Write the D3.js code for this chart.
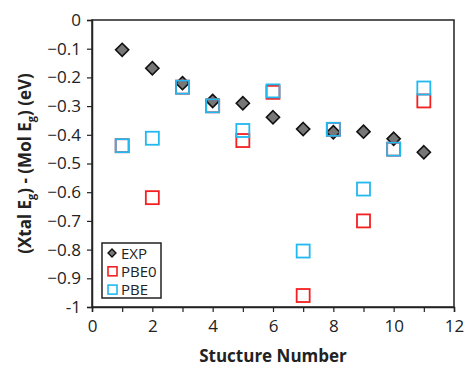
<!DOCTYPE html>
<html><head><meta charset="utf-8">
<script src="https://cdn.jsdelivr.net/npm/d3@7"></script>
<style>body{margin:0;background:#fff}svg{display:block}text{font-family:"Open Sans",sans-serif;fill:#222}</style>
</head><body>
<svg id="c" width="464" height="370"></svg>
<script>
const structures = [1,2,3,4,5,6,7,8,9,10,11];
const exp  = [-0.104,-0.168,-0.220,-0.282,-0.290,-0.339,-0.380,-0.391,-0.389,-0.414,-0.461];
const pbe0 = [-0.438,-0.619,-0.234,-0.299,-0.420,-0.252,-0.960,-0.381,-0.700,-0.450,-0.282];
const pbe  = [-0.438,-0.412,-0.234,-0.299,-0.385,-0.247,-0.805,-0.381,-0.589,-0.450,-0.237];
const xTicks = [0,2,4,6,8,10,12];
const yTicks = [0,-0.1,-0.2,-0.3,-0.4,-0.5,-0.6,-0.7,-0.8,-0.9,-1];

const svg = d3.select("#c");
const L=92,R=454,T=20,B=307;
const x = d3.scaleLinear().domain([0,12]).range([L,R]);
const y = d3.scaleLinear().domain([-1,0]).range([B,T]);

// frame
svg.append("rect").attr("x",L).attr("y",T).attr("width",R-L).attr("height",B-T)
  .attr("fill","none").attr("stroke","#222").attr("stroke-width",1.5);

const fmt = d => d===0 ? "0" : (d===-1 ? "-1" : d3.format(".1f")(d));
const ya = svg.append("g").attr("transform",`translate(${L},0)`)
  .call(d3.axisLeft(y).tickValues(yTicks).tickFormat(fmt).tickSize(5).tickPadding(6));
const xa = svg.append("g").attr("transform",`translate(0,${B})`)
  .call(d3.axisBottom(x).tickValues(d3.range(0,13)).tickFormat(d=> xTicks.includes(d)? d : "").tickSize(5).tickPadding(8));
[ya,xa].forEach(g=>{
  g.select(".domain").attr("stroke","#222").attr("stroke-width",1.5);
  g.selectAll(".tick line").attr("stroke","#222").attr("stroke-width",1.2);
  g.selectAll("text").style("font-size","17px").style("font-family","'Open Sans',sans-serif").attr("fill","#222");
});

const diamond = d3.symbol().type(d3.symbolDiamond2).size(110);
const sq = 13;
svg.append("g").selectAll("path").data(structures).join("path")
  .attr("d",diamond).attr("transform",(d,i)=>`translate(${x(d)},${y(exp[i])})`)
  .attr("fill","#777").attr("stroke","#111").attr("stroke-width",1.6);
svg.append("g").selectAll("rect").data(structures).join("rect")
  .attr("x",d=>x(d)-sq/2).attr("y",(d,i)=>y(pbe0[i])-sq/2).attr("width",sq).attr("height",sq)
  .attr("fill","none").attr("stroke","#f42020").attr("stroke-width",1.8);
svg.append("g").selectAll("rect").data(structures).join("rect")
  .attr("x",d=>x(d)-sq/2).attr("y",(d,i)=>y(pbe[i])-sq/2).attr("width",sq).attr("height",sq)
  .attr("fill","none").attr("stroke","#22b8f0").attr("stroke-width",1.8);

// axis titles
svg.append("text").attr("x",(L+R)/2).attr("y",362).attr("text-anchor","middle")
  .style("font-size","17px").style("font-weight","bold").text("Stucture Number");
const yt = svg.append("text").attr("transform",`translate(31,${(T+B)/2}) rotate(-90)`)
  .attr("text-anchor","middle").style("font-size","17px").style("font-weight","bold");
yt.append("tspan").text("(Xtal E");
yt.append("tspan").attr("dy",4).style("font-size","11px").text("g");
yt.append("tspan").attr("dy",-4).text(") - (Mol E");
yt.append("tspan").attr("dy",4).style("font-size","11px").text("g");
yt.append("tspan").attr("dy",-4).text(") (eV)");

// legend
const lg = svg.append("g");
lg.append("rect").attr("x",102).attr("y",243).attr("width",59).attr("height",55)
  .attr("fill","#fff").attr("stroke","#222").attr("stroke-width",1.5);
const items = [{n:"EXP",t:"d"},{n:"PBE0",t:"r",c:"#f42020"},{n:"PBE",t:"r",c:"#22b8f0"}];
items.forEach((it,i)=>{
  const cy = 253 + i*18.3;
  if(it.t==="d"){
    lg.append("path").attr("d",d3.symbol().type(d3.symbolDiamond2).size(40)())
      .attr("transform",`translate(112,${cy})`).attr("fill","#777").attr("stroke","#111").attr("stroke-width",1.4);
  } else {
    lg.append("rect").attr("x",108).attr("y",cy-4.5).attr("width",9).attr("height",9)
      .attr("fill","none").attr("stroke",it.c).attr("stroke-width",1.6);
  }
  lg.append("text").attr("x",121).attr("y",cy+5.5).style("font-size","15px").text(it.n);
});
</script>
</body></html>
